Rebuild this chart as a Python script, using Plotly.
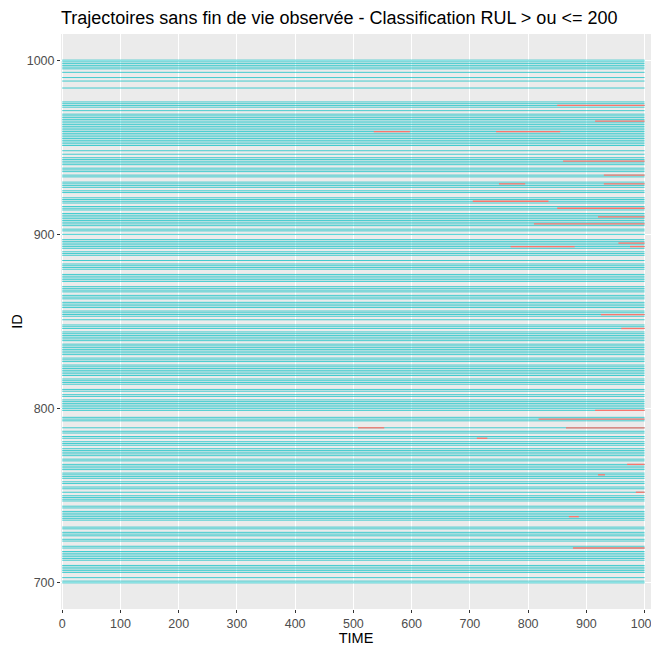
import plotly.graph_objects as go

# ---- data ----
ID_MIN = 700
ID_MAX = 1000
TIME_START = 0
TIME_END = 1000

# IDs without an observed trajectory (visible gaps)
MISSING_IDS = [
    994, 992, 991, 989, 987, 986, 985, 983, 982, 981, 980, 979, 978, 977,
    972, 970, 950, 949, 947, 945, 939, 935, 932, 931, 926, 923, 922, 917,
    913, 904, 901, 899, 898, 891, 887, 886, 884, 879, 878, 872, 871, 866,
    862, 857, 852, 850, 849, 845, 838, 830, 826, 818, 813, 812, 809, 806,
    798, 797, 796, 792, 791, 790, 788, 785, 782, 778, 772, 769, 764, 759,
    756, 753, 751, 746, 745, 742, 735, 734, 733, 730, 726, 723, 722, 719,
    712, 711, 705, 704, 702,
]

# segments classified RUL <= 200 (salmon)
RED_ID = [974, 965, 959, 959, 942, 934, 929, 929, 919, 915, 910, 906, 895,
          893, 893, 854, 846, 799, 794, 789, 789, 783, 768, 762, 752, 738, 720]
RED_START = [850, 915, 535, 745, 860, 930, 750, 930, 705, 850, 920, 810, 955,
             770, 975, 925, 960, 915, 818, 508, 865, 712, 970, 920, 985, 870, 877]
RED_END = [1000, 1000, 597, 855, 1000, 1000, 795, 1000, 835, 1000, 1000, 1000, 1000,
           880, 1000, 1000, 1000, 1000, 1000, 553, 1000, 730, 1000, 932, 1000, 887, 1000]

TITLE = "Trajectoires sans fin de vie observée - Classification RUL > ou <= 200"
X_TICKS = [0, 100, 200, 300, 400, 500, 600, 700, 800, 900, 1000]
Y_TICKS = [700, 800, 900, 1000]

CYAN = "rgba(0,191,196,0.72)"
SALMON = "#F8766D"

present = [i for i in range(ID_MIN, ID_MAX + 1) if i not in MISSING_IDS]

cx, cy = [], []
for i in present:
    cx += [TIME_START, TIME_END, None]
    cy += [i, i, None]

rx, ry = [], []
for i, s, e in zip(RED_ID, RED_START, RED_END):
    rx += [s, e, None]
    ry += [i, i, None]

fig = go.Figure()
fig.add_trace(go.Scatter(x=cx, y=cy, mode="lines", line=dict(color=CYAN, width=1),
                         hoverinfo="skip", showlegend=False))
fig.add_trace(go.Scatter(x=rx, y=ry, mode="lines", line=dict(color=SALMON, width=1.3),
                         hoverinfo="skip", showlegend=False))

font_family = "Liberation Sans, Arial, sans-serif"
fig.update_layout(
    width=651, height=646,
    margin=dict(l=61, r=0, t=34, b=37),
    paper_bgcolor="white",
    plot_bgcolor="#EBEBEB",
    font=dict(family=font_family, size=12.5, color="#4D4D4D"),
    title=dict(text=TITLE, x=0, xref="paper", xanchor="left",
               y=1 - 18 / 646, yref="container", yanchor="middle",
               font=dict(family=font_family, size=18, color="black")),
    xaxis=dict(range=[-2, 1011], tickvals=X_TICKS, ticks="outside", ticklen=3,
               tickcolor="#333333", showgrid=True, gridcolor="white", gridwidth=1.1,
               zeroline=False, showline=False, ticklabeloverflow="allow",
               title=dict(text="TIME", font=dict(size=14.5, color="black"), standoff=1),
               automargin=False),
    yaxis=dict(range=[685, 1015], tickvals=Y_TICKS, ticks="outside", ticklen=3,
               tickcolor="#333333", showgrid=True, gridcolor="white", gridwidth=1.1,
               zeroline=False, showline=False,
               title=dict(text="ID", font=dict(size=14.5, color="black"), standoff=0),
               automargin=False),
)

fig.write_html(
    "out.html",
    config={"displayModeBar": False},
    post_script="document.body.style.margin='0';document.body.style.overflow='hidden';",
)
